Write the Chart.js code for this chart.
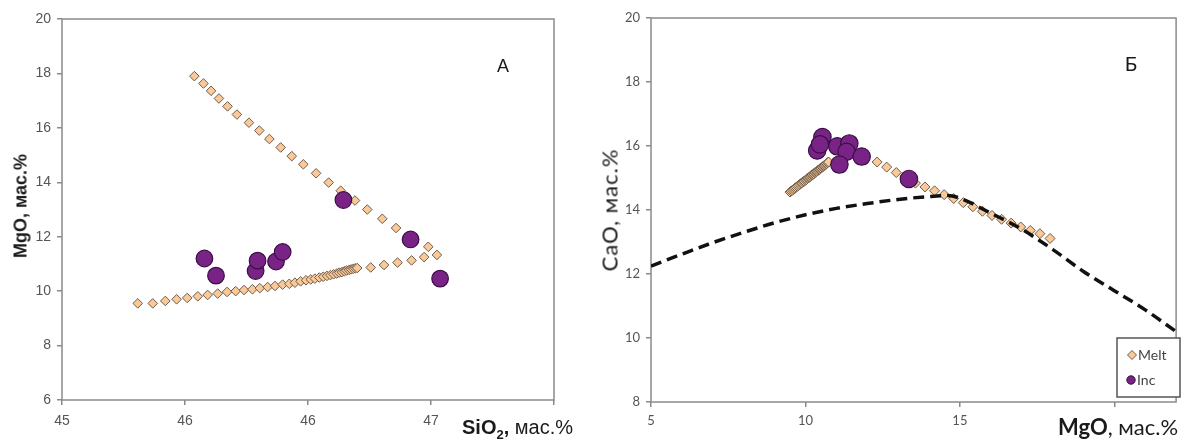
<!DOCTYPE html>
<html><head><meta charset="utf-8">
<script src="https://cdn.jsdelivr.net/npm/chart.js@4.4.1/dist/chart.umd.min.js"></script>
<style>
html,body{margin:0;padding:0;background:#fff;}
#wrap{position:relative;width:1186px;height:439px;overflow:hidden;background:#fff;}
.cv{position:absolute;top:0;}
.t{position:absolute;white-space:nowrap;color:#1a1a1a;line-height:1;}
.rot{transform:translate(-50%,-50%) rotate(-90deg);}
</style></head><body>
<div id="wrap">
  <div class="cv" style="left:0;"><canvas id="cA" width="590" height="439"></canvas></div>
  <div class="cv" style="left:590px;"><canvas id="cB" width="596" height="439"></canvas></div>
  <div class="t rot" style="left:21px;top:206px;font:bold 18px 'Liberation Sans',Arial,sans-serif;">MgO, мас.%</div>
  <div class="t rot" style="left:609px;top:210px;font:22px Lato,sans-serif;letter-spacing:1px;">CaO, мас.%</div>
  <div class="t" style="left:462px;top:416px;font:20px 'Liberation Sans',Arial,sans-serif;"><b>SiO<span style="font-size:13px;position:relative;top:5px;">2</span>,</b> мас.%</div>
  <div class="t" style="left:1058px;top:413px;font:22px Lato,sans-serif;"><b>MgO</b>, мас.%</div>
  <div class="t" style="left:503px;top:66px;transform:translate(-50%,-50%);font:18px 'Liberation Sans',Arial,sans-serif;">А</div>
  <div class="t" style="left:1131px;top:63px;transform:translate(-50%,-50%);font:20px Lato,sans-serif;">Б</div>
</div>
<script>
// ---------- Panel A: SiO2 vs MgO ----------
const meltA_SiO2 = [
  45.308, 45.369, 45.420, 45.466, 45.509, 45.552, 45.592, 45.633, 45.671, 45.706,
  45.740, 45.774, 45.804, 45.836, 45.866, 45.897, 45.924, 45.947, 45.970, 45.992,
  46.011, 46.028, 46.046, 46.062, 46.077, 46.091, 46.104, 46.117, 46.127, 46.138,
  46.148, 46.157, 46.167, 46.175, 46.184, 46.192, 46.200, 46.255, 46.309, 46.364,
  46.421, 46.472,
  46.524, 46.489, 46.417, 46.358, 46.302, 46.241, 46.191, 46.133, 46.084, 46.033,
  45.981, 45.934, 45.889, 45.843, 45.802, 45.760, 45.711, 45.673, 45.638, 45.606,
  45.575, 45.538
];
const meltA_MgO = [
  9.55, 9.55, 9.64, 9.70, 9.75, 9.81, 9.86, 9.91, 9.97, 10.00,
  10.04, 10.07, 10.11, 10.15, 10.19, 10.24, 10.27, 10.31, 10.36, 10.40,
  10.43, 10.46, 10.50, 10.53, 10.56, 10.59, 10.62, 10.65, 10.68, 10.70,
  10.73, 10.76, 10.78, 10.80, 10.82, 10.84, 10.85, 10.87, 10.96, 11.05,
  11.13, 11.25,
  11.33, 11.63, 11.95, 12.32, 12.66, 13.00, 13.33, 13.69, 13.99, 14.33,
  14.66, 14.96, 15.28, 15.59, 15.90, 16.19, 16.49, 16.79, 17.08, 17.36,
  17.63, 17.90
];
const incA_SiO2 = [45.579, 45.626, 45.787, 45.795, 45.870, 45.897, 46.144, 46.417, 46.537];
const incA_MgO  = [11.20, 10.57, 10.74, 11.12, 11.09, 11.44, 13.35, 11.90, 10.46];
const xTicksA = [45, 45.5, 46, 46.5, 47];
const xTickLabelsA = ['45', '46', '46', '47', ''];
const yTicksA = [6, 8, 10, 12, 14, 16, 18, 20];

// ---------- Panel B: MgO vs CaO ----------
const meltB_MgO = [
  9.50, 9.54, 9.58, 9.62, 9.66, 9.70, 9.74, 9.78, 9.82, 9.86,
  9.89, 9.93, 9.96, 10.00, 10.03, 10.06, 10.09, 10.12, 10.15, 10.18,
  10.21, 10.24, 10.27, 10.30, 10.33, 10.36, 10.39, 10.42, 10.45, 10.48,
  10.51, 10.54, 10.57, 10.60, 10.63, 10.66, 10.69, 10.72, 10.75,
  12.32, 12.63, 12.94, 13.25, 13.56, 13.87, 14.18, 14.49, 14.80, 15.11,
  15.42, 15.73, 16.04, 16.35, 16.66, 16.97, 17.28, 17.59, 17.92
];
const meltB_CaO = [
  14.56, 14.59, 14.62, 14.65, 14.68, 14.71, 14.74, 14.77, 14.80, 14.83,
  14.85, 14.88, 14.90, 14.93, 14.95, 14.98, 15.00, 15.02, 15.04, 15.07,
  15.09, 15.11, 15.13, 15.16, 15.18, 15.20, 15.22, 15.25, 15.27, 15.29,
  15.31, 15.34, 15.36, 15.38, 15.40, 15.43, 15.45, 15.48, 15.50,
  15.50, 15.34, 15.17, 14.99, 14.84, 14.72, 14.60, 14.48, 14.36, 14.23,
  14.10, 13.96, 13.83, 13.71, 13.59, 13.47, 13.36, 13.26, 13.11
];
const incB_MgO = [10.38, 10.55, 10.47, 11.03, 11.42, 11.33, 11.82, 11.10, 13.35];
const incB_CaO = [15.86, 16.28, 16.05, 15.99, 16.08, 15.82, 15.67, 15.42, 14.97];
const trendB_MgO = [5, 6, 7, 8, 9, 10, 11, 12, 13, 14, 14.6, 15, 16, 17, 18, 19, 20, 21, 22];
const trendB_CaO = [12.25, 12.62, 12.98, 13.30, 13.60, 13.85, 14.05, 14.20, 14.33, 14.42, 14.45, 14.37, 13.90, 13.40, 12.77, 12.08, 11.48, 10.88, 10.20];
const xTicksB = [5, 10, 15, 20];
const xTickLabelsB = ['5', '10', '15', ''];
const yTicksB = [8, 10, 12, 14, 16, 18, 20];

const pts = (xs, ys) => xs.map((x, i) => ({x: x, y: ys[i]}));

const boxPlugin = {
  id: 'box',
  beforeDatasetsDraw(chart) {
    const a = chart.chartArea, ctx = chart.ctx;
    ctx.save();
    ctx.strokeStyle = '#8a8a8a';
    ctx.lineWidth = 1.5;
    ctx.strokeRect(a.left, a.top, a.right - a.left, a.bottom - a.top);
    ctx.restore();
  }
};

function axisCommon(ticksArr, labels, font, color, padding, fixedSize, isX) {
  return {
    type: 'linear',
    afterBuildTicks: (s) => { s.ticks = ticksArr.map(v => ({value: v})); },
    afterFit: (s) => { if (isX) s.height = fixedSize; else s.width = fixedSize; },
    border: {display: false},
    grid: {drawOnChartArea: false, drawTicks: true, tickLength: 5, color: '#8a8a8a', lineWidth: 1.5},
    ticks: {
      font: font, color: color, padding: padding, maxRotation: 0, autoSkip: false,
      callback: (v, i) => labels ? labels[i] : String(v)
    }
  };
}

const meltStyle = {backgroundColor: '#F9C99A', borderColor: '#6e5b49', borderWidth: 1, pointStyle: 'rectRot'};
const incStyle = {backgroundColor: '#7a2387', borderColor: '#3a0f45', borderWidth: 1.2, pointStyle: 'circle'};

// Chart A
const fontA = {family: "'Liberation Sans', Arial, sans-serif", size: 14};
const xA = axisCommon(xTicksA, xTickLabelsA, fontA, '#555', 8, 39, true);
xA.min = 45; xA.max = 47;
const yA = axisCommon(yTicksA, null, fontA, '#555', 6, 62, false);
yA.min = 6; yA.max = 20;
new Chart(document.getElementById('cA'), {
  type: 'scatter',
  data: {datasets: [
    Object.assign({label: 'Inc', data: pts(incA_SiO2, incA_MgO), pointRadius: 8.3, order: 1}, incStyle),
    Object.assign({label: 'Melt', data: pts(meltA_SiO2, meltA_MgO), pointRadius: 4.8, order: 2}, meltStyle)
  ]},
  options: {
    responsive: false, animation: false, events: [],
    layout: {padding: {top: 19, right: 36, bottom: 0, left: 0}},
    plugins: {legend: {display: false}, tooltip: {enabled: false}},
    scales: {x: xA, y: yA}
  },
  plugins: [boxPlugin]
});

// Chart B
const fontB = {family: "Lato, sans-serif", size: 13};
const xB = axisCommon(xTicksB, xTickLabelsB, fontB, '#555', 6, 37, true);
xB.min = 5; xB.max = 22;
const yB = axisCommon(yTicksB, null, fontB, '#555', 6, 61, false);
yB.min = 8; yB.max = 20;

const legendPlugin = {
  id: 'legB',
  afterDraw(chart) {
    const ctx = chart.ctx;
    const x0 = 527, y0 = 338, w = 63, h = 59;
    ctx.save();
    ctx.fillStyle = '#fff';
    ctx.fillRect(x0, y0, w, h);
    ctx.strokeStyle = '#555';
    ctx.lineWidth = 1.5;
    ctx.strokeRect(x0, y0, w, h);
    const dx = 542, dy = 355, r = 4.5;
    ctx.beginPath();
    ctx.moveTo(dx, dy - r); ctx.lineTo(dx + r, dy); ctx.lineTo(dx, dy + r); ctx.lineTo(dx - r, dy); ctx.closePath();
    ctx.fillStyle = meltStyle.backgroundColor; ctx.fill();
    ctx.strokeStyle = meltStyle.borderColor; ctx.lineWidth = 1; ctx.stroke();
    ctx.beginPath(); ctx.arc(541, 380, 4.2, 0, Math.PI * 2);
    ctx.fillStyle = incStyle.backgroundColor; ctx.fill();
    ctx.strokeStyle = incStyle.borderColor; ctx.stroke();
    ctx.fillStyle = '#444';
    ctx.font = "14px Lato, sans-serif";
    ctx.textBaseline = 'middle';
    ctx.fillText('Melt', 548, 355);
    ctx.fillText('Inc', 547, 380);
    ctx.restore();
  }
};

new Chart(document.getElementById('cB'), {
  type: 'scatter',
  data: {datasets: [
    {label: 'trend', data: pts(trendB_MgO, trendB_CaO), showLine: true, pointRadius: 0,
     borderColor: '#111', borderWidth: 3.5, borderDash: [11, 6], cubicInterpolationMode: 'monotone', order: 0},
    Object.assign({label: 'Inc', data: pts(incB_MgO, incB_CaO), pointRadius: 8.7, order: 1}, incStyle),
    Object.assign({label: 'Melt', data: pts(meltB_MgO, meltB_CaO), pointRadius: 5, order: 2}, meltStyle)
  ]},
  options: {
    responsive: false, animation: false, events: [],
    layout: {padding: {top: 18, right: 3, bottom: 0, left: 0}},
    plugins: {legend: {display: false}, tooltip: {enabled: false}},
    scales: {x: xB, y: yB}
  },
  plugins: [boxPlugin, legendPlugin]
});
</script>
</body></html>
